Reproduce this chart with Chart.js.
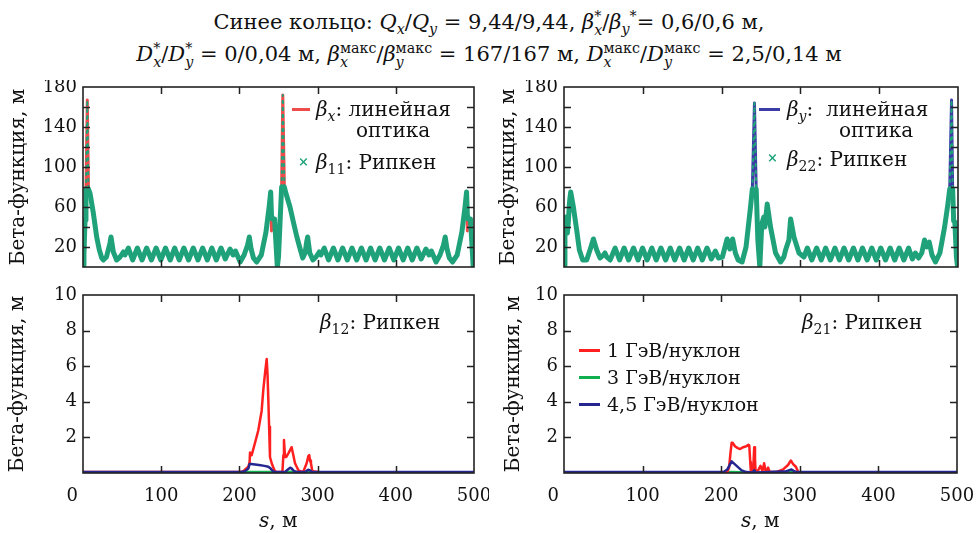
<!DOCTYPE html>
<html><head><meta charset="utf-8">
<script src="https://cdn.jsdelivr.net/npm/chart.js@4.4.1/dist/chart.umd.min.js"></script>
<style>
html,body{margin:0;padding:0;background:#fff;}
body{width:978px;height:533px;position:relative;overflow:hidden;color:#111;font-family:'DejaVu Serif','Liberation Serif',serif;}
canvas{position:absolute;}
.t{position:absolute;font-size:20px;line-height:24px;white-space:nowrap;}
.t sub{font-size:0.7em;vertical-align:-0.35em;line-height:0;}
.ln{position:absolute;height:3px;}
.ttl{position:absolute;left:0;width:978px;text-align:center;font-size:21px;line-height:30px;white-space:nowrap;}
.ss{display:inline-block;vertical-align:-0.42em;font-size:0.68em;line-height:0.95;text-align:left;}
.ss>span{display:block;}
.ttl sub{font-size:0.68em;vertical-align:-0.35em;line-height:0;}
</style>
</head><body>
<div class="ttl" style="top:1px">Синее кольцо: <i>Q</i><sub><i>x</i></sub>/<i>Q</i><sub><i>y</i></sub> = 9,44/9,44, <i>β</i><span class="ss"><span>*</span><span><i>x</i></span></span>/<i>β</i><sub><i>y</i></sub><sup style="font-size:0.68em">*</sup>= 0,6/0,6 м,</div>
<div class="ttl" style="top:39px"><i>D</i><span class="ss"><span>*</span><span><i>x</i></span></span>/<i>D</i><span class="ss"><span>*</span><span><i>y</i></span></span> = 0/0,04 м, <i>β</i><span class="ss"><span>макс</span><span><i>x</i></span></span>/<i>β</i><span class="ss"><span>макс</span><span><i>y</i></span></span> = 167/167 м, <i>D</i><span class="ss"><span>макс</span><span><i>x</i></span></span>/<i>D</i><span class="ss"><span>макс</span><span><i>y</i></span></span> = 2,5/0,14 м</div>

<canvas id="c1" width="489" height="195" style="left:0;top:80px"></canvas>
<canvas id="c2" width="489" height="195" style="left:489px;top:80px"></canvas>
<canvas id="c3" width="489" height="248" style="left:0;top:285px"></canvas>
<canvas id="c4" width="489" height="248" style="left:489px;top:285px"></canvas>

<div class="ln" style="left:292px;top:108px;width:18px;background:#ee4b4b"></div>
<div class="t" style="left:316px;top:97px"><i>β</i><sub><i>x</i></sub>: линейная</div>
<div class="t" style="left:356px;top:118px">оптика</div>
<div class="t" style="left:298px;top:150px;font-size:13px;color:#1fa27a;font-weight:bold">×</div>
<div class="t" style="left:316px;top:150px"><i>β</i><sub>11</sub>: Рипкен</div>

<div class="ln" style="left:759px;top:108px;width:21px;background:#3c3ca6"></div>
<div class="t" style="left:787px;top:97px"><i>β</i><sub><i>y</i></sub>:&nbsp; линейная</div>
<div class="t" style="left:839px;top:118px">оптика</div>
<div class="t" style="left:767px;top:146px;font-size:13px;color:#1fa27a;font-weight:bold">×</div>
<div class="t" style="left:787px;top:147px"><i>β</i><sub>22</sub>: Рипкен</div>

<div class="t" style="left:320px;top:310px"><i>β</i><sub>12</sub>: Рипкен</div>
<div class="t" style="left:802px;top:310px"><i>β</i><sub>21</sub>: Рипкен</div>
<div class="ln" style="left:579px;top:349px;width:21px;background:#ff1f1f"></div>
<div class="t" style="left:607px;top:338px;font-size:19px">1 ГэВ/нуклон</div>
<div class="ln" style="left:579px;top:376px;width:21px;background:#10b050"></div>
<div class="t" style="left:607px;top:365px;font-size:19px">3 ГэВ/нуклон</div>
<div class="ln" style="left:579px;top:403px;width:21px;background:#262690"></div>
<div class="t" style="left:607px;top:392px;font-size:19px">4,5 ГэВ/нуклон</div>

<div class="t" style="left:259px;top:508px"><i>s</i>, м</div>
<div class="t" style="left:741px;top:508px"><i>s</i>, м</div>

<script>
// ---------- data (s in metres, beta in metres) ----------
const sX = [0,1.2,2.6,3.8,5.5,7.0,8.9,13.2,17.5,20.9,24,26,30,34.5,35.8,38.8,43,47.4,51.6,53.7,58,63.5,69.5,75.5,81.4,87.5,93.5,99.5,105.5,111.5,117.3,123,129,135,141,147,153,159,164.7,170.5,176.5,182,188,192,195,201,206,210.5,212.7,215,218,222,228,234,238,240,241,242,245,246,248.5,250,252,254,255.5,257.5,259,264.7,269,273.5,277,281,284,286,287.3,290,294,297.9,302.1,304.2,308.5,314,320.2,326,332,338,344,350,356,362,367.8,373.5,379.5,385.5,391.5,397.5,403.5,409.5,415.2,421,427,432.5,438.5,442.5,445.5,451.5,456.5,461,463.2,465.5,468.5,472.5,478.5,484.5,488.5,490.5,491.5,492.5,495.5,496.5,499,500];
const betaX = [2,12,47,78,167,78,74,54,30,17,9,7,10,24,30,15,7,10,15,12,19,7,19,7,19,7,19,7,19,7,19,7,19,7,19,7,19,7,19,7,19,8,18,12,16,5,12,22,30,18,9,5,12,35,60,75,36,48,48,34,0,10,45,80,172,80,75,60,45,30,20,9,14,25,30,14,7,10,15,12,19,7,19,7,19,7,19,7,19,7,19,7,19,7,19,7,19,7,19,7,19,8,18,12,16,5,12,22,30,18,9,5,12,35,60,75,36,48,48,34,0,4];
const beta11 = [2,12,47,78,167,78,74,54,30,17,9,7,10,24,30,15,7,10,15,12,19,7,19,7,19,7,19,7,19,7,19,7,19,7,19,7,19,7,19,7,19,8,18,12,16,5,12,22,30,18,9,5,12,35,60,75,52,48,48,34,0,10,45,80,172,80,75,60,45,30,20,9,14,25,30,14,7,10,15,12,19,7,19,7,19,7,19,7,19,7,19,7,19,7,19,7,19,7,19,7,19,8,18,12,16,5,12,22,30,18,9,5,12,35,60,75,52,48,48,34,0,4];

const sY = [0,1.2,2.1,2.8,3.6,4.3,5.5,7.0,8.5,11.9,16.1,19.5,23.7,28.8,33,37.3,41.5,45.8,50,52,54.3,58.5,64.9,70.5,76.3,82,88.2,94,99.7,105.5,111.5,117,123,129,134.9,140.5,146.7,152.5,158.2,164,169.6,175.5,181.5,187,192,196,201,207,210.5,214,217.5,221,226,231,236.7,239,241.7,243.9,246,248.5,251,253.6,254.9,257.9,262.1,268.5,274.8,279,281.2,285.4,287.6,291.8,298.2,304.5,308.8,314.5,320.6,326.5,332,338,343.9,349.5,355.4,361.3,367.3,373,378.8,384.7,390.6,396.3,402,408,413.9,419.7,425.4,431.3,437.3,442,446,450,454,457.5,460.5,463.5,467,471.5,477,483,487,489.5,491.8,493.2,494.5,496,498,499.5,500];
const betaY = [2,30,47,50,50,34,45,65,75,60,37,17,7,7,17,28,17,9,12,14,10,7,19,7,19,7,19,7,19,7,19,7,19,7,19,7,19,7,19,7,19,7,19,8,16,9,10,28,18,28,14,7,5,20,60,78,164,78,27,0,43,50,40,63,40,14,5,10,17,27,48,30,14,10,19,7,19,7,19,7,19,7,19,7,19,7,19,7,19,7,19,7,19,7,19,7,19,8,14,9,14,27,20,25,12,5,14,40,62,78,167,78,46,45,10,0,0];
const beta22 = [2,30,47,50,50,34,45,65,75,60,37,17,7,7,17,28,17,9,12,14,10,7,19,7,19,7,19,7,19,7,19,7,19,7,19,7,19,7,19,7,19,7,19,8,16,9,10,28,18,28,14,7,5,20,60,78,164,78,27,0,43,50,40,63,40,14,5,10,17,27,48,30,14,10,19,7,19,7,19,7,19,7,19,7,19,7,19,7,19,7,19,7,19,7,19,7,19,8,14,9,14,27,20,25,12,5,14,40,62,78,167,78,46,45,10,0,0];

// beta12 (Ripken), three energies
const s12r = [0,200,205,211.4,213,213.6,215.7,220,224.2,228.5,230.6,233,234.9,236,237,238,239.1,241.3,243,245.5,248,255,256.2,257,258.3,260,262.6,265,266.8,268.5,271.1,275.4,281.5,286,288.2,289.3,290.3,291.5,293.3,301,305,500];
const b12_1 = [0.05,0.05,0.1,0.35,0.6,1.15,1.0,1.7,2.4,3.5,4.7,5.7,6.4,5.5,4.1,2.6,0.9,0.55,0.35,0.1,0.05,0.05,1.0,1.85,0.9,0.9,1.1,1.3,1.45,1.1,0.55,0.15,0.05,0.55,0.95,1.0,0.7,0.55,0.1,0.05,0.03,0.03];
const s12g = [0,205,210,240,250,262,270,275,288,295,500];
const b12_3 = [0.02,0.02,0.05,0.05,0.02,0.05,0.08,0.03,0.06,0.02,0.02];
const s12b = [0,200,207,211.4,213,215,225,232,237,240,243,247,258,262,265,267,270,275,284,288,290,293,500];
const b12_45 = [0.05,0.05,0.1,0.25,0.5,0.5,0.45,0.4,0.35,0.25,0.1,0.05,0.05,0.2,0.3,0.25,0.1,0.05,0.05,0.18,0.15,0.05,0.05];

// beta21 (Ripken), three energies
const s21r = [0,200,207.8,210,212,213.3,214.5,217.5,221,224,228,232,234.5,235.7,237,237.8,240.7,242,243,243.7,247,250,252.5,254.6,256.7,259.7,261.8,270,278.8,285,288.6,291.5,295,298,302,500];
const b21_1 = [0.03,0.03,0.05,0.3,1.2,1.7,1.7,1.5,1.4,1.35,1.45,1.5,1.58,1.55,0.6,0.05,0.15,1.45,0.8,0.1,0.15,0.4,0.1,0.55,0.05,0.3,0.05,0.05,0.2,0.45,0.7,0.5,0.35,0.05,0.03,0.03];
const s21g = [0,205,212,225,240,270,288,296,500];
const b21_3 = [0.03,0.03,0.06,0.04,0.03,0.03,0.07,0.03,0.03];
const s21b = [0,203,207.8,213.3,219.6,226,232,240,242,244,283,289.5,293,296,500];
const b21_45 = [0.05,0.05,0.2,0.65,0.4,0.15,0.05,0.03,0.15,0.03,0.1,0.2,0.1,0.05,0.05];

const topYTicks = [20,60,100,140,180];
const botYTicks = [2,4,6,8,10];
const xTicks = [0,100,200,300,400,500];

// ---------- helpers ----------
const pts = (s, v) => s.map((x, i) => ({x, y: v[i]}));
const FAM = "'DejaVu Serif', 'Liberation Serif', serif";
Chart.defaults.font.family = FAM;
Chart.defaults.color = '#111';
Chart.defaults.animation = false;

const framePlugin = {
  id: 'frame',
  afterDatasetsDraw(chart) {
    const {ctx, chartArea: a, scales: {x, y}} = chart;
    ctx.save();
    ctx.strokeStyle = '#222';
    ctx.lineWidth = 1.5;
    ctx.beginPath();
    const L = 7;
    x.ticks.forEach(t => {
      if (t.value <= x.min || t.value >= x.max) return;
      const p = Math.round(x.getPixelForValue(t.value)) + 0.5;
      ctx.moveTo(p, a.bottom); ctx.lineTo(p, a.bottom - L);
      ctx.moveTo(p, a.top); ctx.lineTo(p, a.top + L);
    });
    y.ticks.forEach(t => {
      if (t.value <= y.min || t.value >= y.max) return;
      const p = Math.round(y.getPixelForValue(t.value)) + 0.5;
      ctx.moveTo(a.left, p); ctx.lineTo(a.left + L, p);
      ctx.moveTo(a.right, p); ctx.lineTo(a.right - L, p);
    });
    ctx.stroke();
    ctx.lineWidth = 1.6;
    ctx.strokeRect(a.left, a.top, a.right - a.left, a.bottom - a.top);
    ctx.restore();
  }
};

function makeChart(id, datasets, cfg) {
  return new Chart(document.getElementById(id), {
    type: 'line',
    data: {datasets},
    options: {
      responsive: false,
      animation: false,
      events: [],
      layout: {padding: cfg.pad},
      plugins: {legend: {display: false}, tooltip: {enabled: false}},
      elements: {point: {radius: 0}, line: {tension: 0, borderJoinStyle: 'round', borderCapStyle: 'round'}},
      scales: {
        x: {
          type: 'linear', min: 0, max: 500,
          afterBuildTicks: s => { s.ticks = xTicks.map(v => ({value: v})); },
          grid: {display: false, drawTicks: false},
          border: {display: false},
          ticks: {display: true, autoSkip: false, padding: 13, font: {family: FAM, size: 18}, maxRotation: 0,
            color: cfg.showX ? '#111' : 'rgba(0,0,0,0)',
            callback: v => v === 0 ? '0\u2003\u2009' : String(v)},
          afterFit: s => { s.height = cfg.xH; s.paddingLeft = 0; s.paddingRight = 0; s.paddingTop = 0; s.paddingBottom = 0; }
        },
        y: {
          type: 'linear', min: 0, max: cfg.yMax,
          afterBuildTicks: s => { s.ticks = cfg.yTickVals.map(v => ({value: v})); },
          grid: {display: false, drawTicks: false},
          border: {display: false},
          ticks: {padding: 6, autoSkip: false, font: {family: FAM, size: 18},
            callback: v => cfg.yLabels.includes(v) ? String(v) : ''},
          title: {display: true, text: 'Бета-функция, м', font: {family: FAM, size: 20}, padding: {top: cfg.tPad, bottom: 0}, color: '#111'},
          afterFit: s => { s.width = cfg.yW; s.paddingTop = 0; s.paddingBottom = 0; s.paddingLeft = 0; s.paddingRight = 0; }
        }
      }
    },
    plugins: [framePlugin]
  });
}

const steep = ctx => Math.max(ctx.p0.parsed.y, ctx.p1.parsed.y) > 82;
const greenBand = (data) => ({
  data, borderColor: '#1fa27a', borderWidth: 5, order: 1,
  segment: {
    borderWidth: ctx => steep(ctx) ? 2 : undefined,
    borderDash: ctx => steep(ctx) ? [2, 5] : undefined
  }
});

const topTicks = [0,20,40,60,80,100,120,140,160,180];
const botTicks = [0,2,4,6,8,10];

makeChart('c1', [
  greenBand(pts(sX, beta11)),
  {data: pts(sX, betaX), borderColor: '#ee4b4b', borderWidth: 3, order: 2}
], {pad: {left: 0, top: 7, right: 15, bottom: 8}, xH: 0, yW: 83, showX: false, yMax: 180,
    yTickVals: topTicks, yLabels: topYTicks, tPad: 7});

makeChart('c2', [
  greenBand(pts(sY, beta22)),
  {data: pts(sY, betaY), borderColor: '#3c3ca6', borderWidth: 3, order: 2}
], {pad: {left: 0, top: 7, right: 20, bottom: 8}, xH: 0, yW: 75, showX: false, yMax: 180,
    yTickVals: topTicks, yLabels: topYTicks, tPad: 8});

makeChart('c3', [
  {data: pts(s12b, b12_45), borderColor: '#262690', borderWidth: 2.5, order: 1},
  {data: pts(s12r, b12_1), borderColor: '#ff1f1f', borderWidth: 2.5, order: 2},
  {data: pts(s12g, b12_3), borderColor: '#10b050', borderWidth: 2.5, order: 3}
], {pad: {left: 0, top: 10, right: 15, bottom: 20}, xH: 40, yW: 83, showX: true, yMax: 10,
    yTickVals: botTicks, yLabels: botYTicks, tPad: 6});

makeChart('c4', [
  {data: pts(s21b, b21_45), borderColor: '#262690', borderWidth: 2.5, order: 1},
  {data: pts(s21r, b21_1), borderColor: '#ff1f1f', borderWidth: 2.5, order: 2},
  {data: pts(s21g, b21_3), borderColor: '#10b050', borderWidth: 2.5, order: 3}
], {pad: {left: 0, top: 10, right: 21, bottom: 20}, xH: 40, yW: 75, showX: true, yMax: 10,
    yTickVals: botTicks, yLabels: botYTicks, tPad: 13});
</script>
</body></html>
